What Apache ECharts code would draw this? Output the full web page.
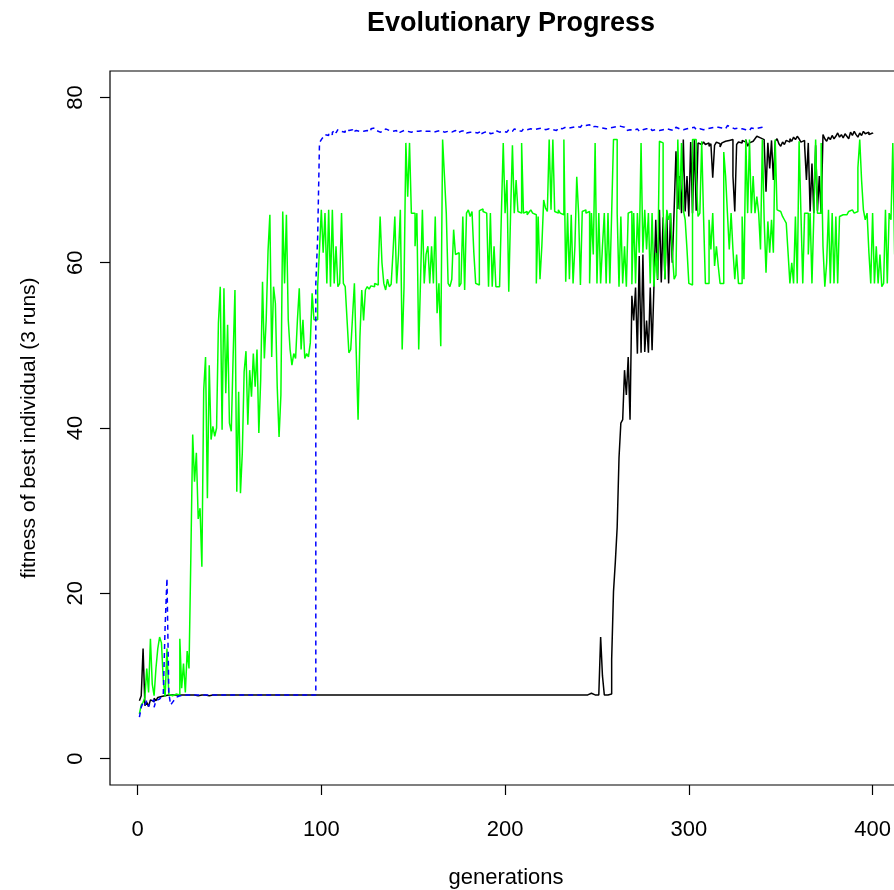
<!DOCTYPE html>
<html>
<head>
<meta charset="utf-8">
<title>Evolutionary Progress</title>
<script src="https://cdn.jsdelivr.net/npm/echarts@6/dist/echarts.min.js"></script>
<style>
  html, body { margin: 0; padding: 0; background: #fff; }
  #chart { width: 894px; height: 890px; }
</style>
</head>
<body>
<div id="chart"></div>
<script>
// tick values
const xTicks = [0, 100, 200, 300, 400];
const yTicks = [0, 20, 40, 60, 80];

// run 1 (black), one value per generation starting at generation 1
const run1 = [
  7.0, 7.6, 13.3, 6.4, 6.8, 6.3, 7.1, 6.9, 7.3, 7.0,
  7.4, 7.5, 7.4, 7.6, 7.6, 7.7, 7.6, 7.7, 7.7, 7.7,
  7.7, 7.7, 7.7, 7.7, 7.7, 7.7, 7.7, 7.7, 7.7, 7.7,
  7.7, 7.6, 7.7, 7.7, 7.8, 7.7, 7.7, 7.6, 7.7, 7.7,
  7.7, 7.7, 7.7, 7.7, 7.7, 7.7, 7.7, 7.7, 7.7, 7.7,
  7.7, 7.7, 7.7, 7.7, 7.7, 7.7, 7.7, 7.7, 7.7, 7.7,
  7.7, 7.7, 7.7, 7.7, 7.7, 7.7, 7.7, 7.7, 7.7, 7.7,
  7.7, 7.7, 7.7, 7.7, 7.7, 7.7, 7.7, 7.7, 7.7, 7.7,
  7.7, 7.7, 7.7, 7.7, 7.7, 7.7, 7.7, 7.7, 7.7, 7.7,
  7.7, 7.7, 7.7, 7.7, 7.7, 7.7, 7.7, 7.7, 7.7, 7.7,
  7.7, 7.7, 7.7, 7.7, 7.7, 7.7, 7.7, 7.7, 7.7, 7.7,
  7.7, 7.7, 7.7, 7.7, 7.7, 7.7, 7.7, 7.7, 7.7, 7.7,
  7.7, 7.7, 7.7, 7.7, 7.7, 7.7, 7.7, 7.7, 7.7, 7.7,
  7.7, 7.7, 7.7, 7.7, 7.7, 7.7, 7.7, 7.7, 7.7, 7.7,
  7.7, 7.7, 7.7, 7.7, 7.7, 7.7, 7.7, 7.7, 7.7, 7.7,
  7.7, 7.7, 7.7, 7.7, 7.7, 7.7, 7.7, 7.7, 7.7, 7.7,
  7.7, 7.7, 7.7, 7.7, 7.7, 7.7, 7.7, 7.7, 7.7, 7.7,
  7.7, 7.7, 7.7, 7.7, 7.7, 7.7, 7.7, 7.7, 7.7, 7.7,
  7.7, 7.7, 7.7, 7.7, 7.7, 7.7, 7.7, 7.7, 7.7, 7.7,
  7.7, 7.7, 7.7, 7.7, 7.7, 7.7, 7.7, 7.7, 7.7, 7.7,
  7.7, 7.7, 7.7, 7.7, 7.7, 7.7, 7.7, 7.7, 7.7, 7.7,
  7.7, 7.7, 7.7, 7.7, 7.7, 7.7, 7.7, 7.7, 7.7, 7.7,
  7.7, 7.7, 7.7, 7.7, 7.7, 7.7, 7.7, 7.7, 7.7, 7.7,
  7.7, 7.7, 7.7, 7.7, 7.7, 7.7, 7.7, 7.7, 7.7, 7.7,
  7.7, 7.7, 7.7, 7.7, 7.7, 7.9, 7.7, 7.7, 7.7, 7.7,
  7.8, 14.7, 10.0, 7.7, 7.7, 7.7, 7.8, 12.0, 20.2, 23.8,
  28.0, 36.4, 40.6, 41.0, 47.0, 44.0, 48.6, 41.0, 56.0, 53.0,
  57.0, 49.0, 60.8, 49.1, 61.0, 49.2, 53.0, 49.1, 57.0, 49.4,
  57.1, 65.2, 57.9, 66.4, 57.6, 65.5, 58.0, 66.2, 57.5, 66.0,
  60.0, 66.4, 73.5, 66.5, 70.5, 66.0, 74.9, 66.2, 70.5, 65.6,
  74.6, 66.0, 74.9, 66.3, 74.5, 74.3, 74.2, 74.6, 74.3, 74.5,
  74.1, 74.4, 70.3, 74.2, 74.6, 74.4, 74.0, 74.5, 74.7, 74.5,
  74.8, 74.6, 74.9, 70.5, 66.2, 74.3, 74.6, 74.5, 74.8, 74.6,
  74.9, 74.1, 74.5, 74.7, 74.6, 75.0, 75.3, 75.1, 75.3, 74.9,
  74.6, 68.6, 74.5, 71.4, 74.8, 70.0, 74.7, 75.0, 74.4, 74.1,
  74.6, 74.3, 74.8, 74.6, 75.0, 74.7, 75.2, 74.9, 75.3, 75.0,
  74.6, 74.8, 74.2, 70.0, 74.5, 66.2, 72.0, 66.0, 74.2, 66.3,
  70.5, 66.0, 75.5, 75.0, 74.7, 75.2, 74.9, 75.4, 75.0, 75.3,
  75.7, 75.2, 75.5, 75.1, 75.6, 75.3, 75.0, 75.8, 75.4, 75.9,
  75.5, 75.2, 75.7, 75.4, 75.9, 75.6, 75.8, 75.5, 75.7, 75.6
];

// run 2 (blue, dashed)
const run2 = [
  5.0, 6.2, 6.8, 6.5, 7.0, 6.3, 6.9, 7.1, 6.2, 7.0,
  7.2, 7.4, 7.5, 7.8, 16.0, 21.8, 7.9, 6.5, 6.8, 7.1,
  7.4, 7.6, 7.7, 7.6, 7.7, 7.7, 7.7, 7.7, 7.7, 7.7,
  7.7, 7.7, 7.7, 7.7, 7.7, 7.7, 7.7, 7.7, 7.7, 7.7,
  7.7, 7.7, 7.7, 7.7, 7.7, 7.7, 7.7, 7.7, 7.7, 7.7,
  7.7, 7.7, 7.7, 7.7, 7.7, 7.7, 7.7, 7.7, 7.7, 7.7,
  7.7, 7.7, 7.7, 7.7, 7.7, 7.7, 7.7, 7.7, 7.7, 7.7,
  7.7, 7.7, 7.7, 7.7, 7.7, 7.7, 7.7, 7.7, 7.7, 7.7,
  7.7, 7.7, 7.7, 7.7, 7.7, 7.7, 7.7, 7.7, 7.7, 7.7,
  7.7, 7.7, 7.7, 7.7, 7.7, 7.7, 57.5, 63.0, 74.5, 74.9,
  75.2, 75.5, 75.4, 75.7, 75.5, 75.8, 76.0, 75.7, 76.1, 75.9,
  76.0, 75.8, 76.1, 76.0, 75.9, 76.1, 75.8, 76.0, 76.2, 75.9,
  76.0, 75.9, 76.1, 76.0, 76.0, 75.9, 76.2, 76.3, 76.1, 76.0,
  75.8, 76.0, 75.9, 76.1, 76.2, 76.0, 75.8, 75.9, 76.1, 76.0,
  75.7, 75.8, 75.9, 76.0, 75.8, 75.9, 76.0, 75.8, 75.7, 75.9,
  76.0, 75.9, 75.8, 76.0, 76.1, 75.9, 75.8, 75.9, 76.0, 75.8,
  75.7, 75.9, 75.8, 76.0, 75.9, 75.8, 75.7, 75.9, 76.0, 75.8,
  75.9, 76.0, 75.8, 75.7, 75.9, 75.8, 76.0, 75.9, 75.7, 75.8,
  75.6, 75.8, 75.9, 75.7, 75.8, 75.9, 75.6, 75.8, 75.7, 75.9,
  75.8, 75.6, 75.7, 75.9, 76.0, 75.8, 75.7, 75.9, 76.0, 75.8,
  76.0, 76.1, 75.9, 76.0, 76.2, 76.0, 76.1, 75.9, 76.0, 76.2,
  76.1, 76.0, 76.2, 76.3, 76.1, 76.0, 76.2, 76.1, 76.3, 76.2,
  76.1, 76.0, 76.2, 76.3, 76.1, 76.2, 76.0, 76.1, 76.3, 76.2,
  76.3, 76.4, 76.2, 76.3, 76.5, 76.4, 76.3, 76.5, 76.6, 76.4,
  76.5, 76.7, 76.6, 76.5, 76.7, 76.6, 76.4, 76.5, 76.3, 76.4,
  76.2, 76.3, 76.1, 76.2, 76.4, 76.3, 76.5, 76.4, 76.6, 76.5,
  76.7, 76.5, 76.3, 76.4, 76.2, 76.0, 76.1, 75.9, 76.0, 76.1,
  76.2, 76.0, 75.9, 76.1, 76.0, 76.2, 76.1, 76.3, 76.2, 76.0,
  76.1, 75.9, 76.0, 76.2, 76.1, 76.0, 76.2, 76.3, 76.1, 76.2,
  76.0, 76.2, 76.4, 76.2, 76.3, 76.1, 76.0, 76.2, 76.1, 76.3,
  76.2, 76.4, 76.3, 76.1, 76.2, 76.0, 76.1, 76.3, 76.2, 76.4,
  76.3, 76.5, 76.4, 76.6, 76.4, 76.2, 76.3, 76.1, 76.2, 76.4,
  76.6, 76.4, 76.3, 76.2, 76.4, 76.3, 76.1, 76.2, 76.3, 76.1,
  76.2, 76.0, 76.1, 76.3, 76.2, 76.1, 76.3, 76.2, 76.4, 76.3,
  76.5, 76.5
];

// run 3 (green)
const run3 = [
  5.4, 6.5, 6.8, 7.4, 10.9, 8.0, 14.5, 9.0, 7.6, 10.9,
  13.3, 14.7, 14.0, 9.5, 7.5, 13.3, 7.8, 7.6, 7.7, 7.8,
  7.6, 7.7, 14.5, 8.5, 11.5, 8.0, 13.0, 10.9, 24.5, 39.2,
  33.5, 37.0, 29.0, 30.3, 23.2, 44.6, 48.6, 31.5, 47.6, 38.6,
  40.2, 39.0, 40.0, 52.7, 57.1, 39.8, 56.9, 44.2, 52.5, 40.6,
  39.6, 48.6, 56.7, 32.3, 44.4, 32.1, 37.0, 46.8, 49.3, 40.4,
  47.0, 43.8, 49.0, 45.0, 49.5, 39.4, 45.8, 57.7, 48.4, 53.1,
  61.4, 65.8, 48.6, 57.1, 55.1, 45.0, 38.9, 44.0, 66.2, 57.5,
  65.8, 53.1, 49.5, 47.6, 49.0, 48.4, 53.1, 56.9, 49.5, 53.1,
  48.4, 49.0, 48.6, 50.3, 56.3, 53.1, 53.1, 57.1, 61.6, 66.4,
  61.2, 66.0, 57.5, 66.4, 57.1, 66.4, 57.5, 62.0, 57.1, 57.5,
  66.0, 57.5, 57.1, 53.1, 49.1, 49.5, 53.5, 57.5, 49.1, 41.0,
  51.0, 56.7, 53.0, 56.7, 57.1, 56.8, 57.2, 57.1, 57.5, 57.3,
  59.2, 65.6, 60.0, 57.5, 56.7, 58.0, 57.1, 57.4, 61.2, 65.6,
  57.5, 61.0, 66.4, 49.5, 57.0, 74.5, 68.0, 74.5, 66.0, 66.0,
  62.0, 66.0, 49.5, 58.0, 66.4, 57.5, 61.0, 62.0, 57.5, 62.0,
  57.5, 65.6, 53.9, 57.5, 49.9, 74.9, 70.5, 66.0, 57.5, 57.1,
  58.0, 64.0, 61.0, 61.2, 57.1, 57.5, 65.6, 56.7, 66.0, 66.4,
  65.6, 66.2, 61.2, 57.5, 57.3, 66.3, 66.5, 66.2, 66.0, 65.8,
  57.1, 66.0, 57.1, 62.0, 57.1, 57.1, 57.3, 66.0, 74.5, 66.0,
  70.0, 56.5, 66.0, 74.2, 66.0, 70.0, 66.2, 66.0, 74.5, 66.0,
  66.2, 65.8, 66.1, 66.4, 66.0, 65.8, 57.5, 65.6, 58.0, 62.0,
  67.6, 66.6, 66.2, 74.9, 66.4, 74.9, 66.2, 66.0, 66.4, 66.0,
  65.8, 74.9, 57.7, 66.0, 58.0, 65.8, 57.5, 62.0, 70.4, 66.0,
  57.3, 66.2, 66.4, 66.0, 66.2, 57.5, 66.0, 61.0, 74.5, 57.5,
  66.0, 57.5, 62.0, 66.0, 57.5, 66.0, 57.5, 66.0, 74.9, 74.9,
  66.0, 57.1, 65.6, 57.5, 62.0, 57.1, 66.0, 66.2, 57.4, 66.0,
  57.5, 66.0, 61.2, 74.5, 61.2, 66.4, 61.6, 66.0, 57.5, 66.0,
  57.1, 61.2, 58.0, 74.7, 74.5, 66.4, 58.0, 66.4, 65.2, 66.0,
  61.2, 58.0, 58.5, 74.9, 66.4, 74.5, 66.4, 65.2, 61.6, 57.5,
  57.3, 74.9, 74.9, 70.5, 65.6, 66.0, 74.7, 65.6, 57.5, 57.5,
  65.2, 61.6, 66.0, 59.6, 62.0, 59.6, 57.5, 57.5, 73.4, 70.5,
  66.0, 61.6, 66.0, 61.6, 58.0, 61.0, 57.5, 57.5, 65.6, 58.0,
  74.9, 66.0, 74.9, 66.0, 70.5, 66.0, 68.0, 66.0, 61.6, 74.9,
  65.2, 58.8, 65.0, 61.2, 65.2, 61.2, 74.9, 66.4, 66.2, 66.0,
  65.6, 65.2, 64.8, 61.2, 57.5, 60.0, 57.5, 65.6, 57.5, 74.7,
  66.0, 57.5, 66.0, 66.0, 61.0, 66.0, 57.5, 65.6, 74.9, 66.0,
  66.0, 74.5, 62.0, 57.1, 60.0, 66.4, 57.5, 66.0, 57.5, 65.6,
  57.5, 65.6, 65.8, 66.0, 65.8, 66.0, 66.2, 66.4, 66.2, 66.0,
  66.2, 71.5, 74.9, 70.0, 66.4, 65.2, 66.0, 61.2, 57.5, 66.0,
  57.5, 62.0, 57.5, 61.0, 57.1, 57.5, 66.4, 57.5, 66.0, 65.2,
  74.5, 61.0, 66.0, 57.5
];

const FONT = "'Liberation Sans', Arial, sans-serif";

// generation numbers start at 1
const toPairs = (vals) => vals.map((v, i) => [i + 1, v]);

const chart = echarts.init(document.getElementById('chart'), null, { renderer: 'canvas' });

// R type = "s": horizontal first, then vertical
const lineSeries = (data, color, type, z) => ({
  type: 'line',
  data: toPairs(data),
  step: 'end',
  showSymbol: false,
  symbol: 'none',
  clip: true,
  z: z,
  lineStyle: { color: color, width: 1.5, type: type },
  emphasis: { disabled: true },
});

chart.setOption({
  animation: false,
  backgroundColor: '#fff',
  textStyle: { fontFamily: FONT, color: '#000' },
  title: {
    text: 'Evolutionary Progress',
    left: 506,
    textAlign: 'center',
    top: 5,
    textStyle: { fontFamily: FONT, fontSize: 27, fontWeight: 'bold', color: '#000' },
  },
  grid: {
    left: 110,
    top: 71,
    width: 792,
    height: 714,
    outerBoundsMode: 'none',
    containLabel: false,
    show: true,
    borderColor: '#000',
    borderWidth: 1.2,
    backgroundColor: 'transparent',
  },
  xAxis: {
    type: 'value',
    min: -15,
    max: 416,
    name: 'generations',
    nameLocation: 'middle',
    nameGap: 82,
    nameTextStyle: { fontFamily: FONT, fontSize: 22, color: '#000' },
    axisLine: { show: false, onZero: false },
    axisTick: { show: true, inside: false, length: 10, customValues: xTicks, lineStyle: { color: '#000', width: 1.2 } },
    axisLabel: { customValues: xTicks, margin: 34, fontFamily: FONT, fontSize: 22, color: '#000' },
    splitLine: { show: false },
  },
  yAxis: {
    type: 'value',
    min: -3.2,
    max: 83.2,
    name: 'fitness of best individual (3 runs)',
    nameLocation: 'middle',
    nameGap: 70,
    nameTextStyle: { fontFamily: FONT, fontSize: 21, color: '#000' },
    axisLine: { show: false, onZero: false },
    axisTick: { show: true, inside: false, length: 10, customValues: yTicks, lineStyle: { color: '#000', width: 1.2 } },
    axisLabel: { customValues: yTicks, rotate: 90, margin: 23, fontFamily: FONT, fontSize: 22, color: '#000' },
    splitLine: { show: false },
  },
  series: [
    lineSeries(run1, '#000000', 'solid', 2),
    lineSeries(run3, '#00ff00', 'solid', 3),
    lineSeries(run2, '#0000ff', [5, 4], 4),
  ],
});
</script>
</body>
</html>
